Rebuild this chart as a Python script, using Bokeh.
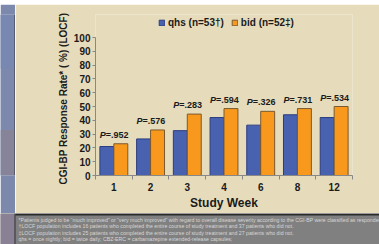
from bokeh.plotting import figure
from bokeh.models import (ColumnDataSource, Range1d, FixedTicker, Legend, LegendItem, Label, Title)
from bokeh.layouts import row, column
from bokeh.transform import dodge
from bokeh.core.properties import value
from bokeh.embed import file_html
from bokeh.resources import INLINE

weeks = ["1", "2", "3", "4", "6", "8", "12"]
qhs = [21, 26.5, 32.5, 42, 36.5, 44, 42]
bid = [23, 33, 44.5, 48.5, 46.5, 48.5, 50]
pvals = ["=.952", "=.576", "=.283", "=.594", "=.326", "=.731", "=.534"]
series_names = ["qhs (n=53\u2020)", "bid (n=52\u2021)"]
y_title = "CGI-BP Response Rate* ( %) (LOCF)"
y_ticks = list(range(0, 101, 10))
footnotes = [
    "*Patients judged to be \u201cmuch improved\u201d or \u201cvery much improved\u201d with regard to overall disease severity according to the CGI-BP were classified as responders.",
    "\u2020LOCF population includes 16 patients who completed the entire course of study treatment and 37 patients who did not.",
    "\u2021LOCF population includes 25 patients who completed the entire course of study treatment and 27 patients who did not.",
    "qhs = once nightly; bid = twice daily; CBZ-ERC = carbamazepine extended-release capsules;",
    "CGI-BP = Clinical Global Impressions Scale\u2014Bipolar version; LOCF = last observation carried forward.",
]

FONT = "Liberation Sans"
BEIGE = "#e6dcbc"
BLUE = "#4862b0"
ORANGE = "#f8981d"
DARK = "#1a1a1a"


def deco(width, height, bg):
    f = figure(width=width, height=height, output_backend="svg", toolbar_location=None,
               x_range=Range1d(0, width), y_range=Range1d(height, 0),
               min_border_left=0, min_border_right=0, min_border_top=0, min_border_bottom=0)
    f.axis.visible = False
    f.grid.visible = False
    f.outline_line_color = None
    f.background_fill_color = bg
    f.border_fill_color = bg
    return f


# ---------------- slide decorations (pixel-space figures) ----------------
topbar = deco(379, 4, "#e8781e")
topbar.quad(left=0, right=14, top=0, bottom=4, fill_color="#7888b0", line_color=None)
topbar.quad(left=14, right=15, top=0, bottom=4, fill_color="#333333", line_color=None)
topbar.quad(left=15, right=379, top=3, bottom=4, fill_color="#3a2a1a", line_color=None)

strip = deco(15, 209, "#7d89ac")
strip.quad(left=0, right=14, top=0, bottom=70, fill_color="#7888b0", line_color=None)
strip.quad(left=0, right=14, top=150, bottom=209, fill_color="#87849a", line_color=None)
strip.quad(left=14, right=15, top=0, bottom=209, fill_color="#333333", line_color=None)

footer = deco(379, 31, "#808080")
footer.quad(left=0, right=14, top=0, bottom=31, fill_color="#8a8294", line_color=None)
footer.quad(left=14, right=15, top=0, bottom=31, fill_color="#333333", line_color=None)
footer.quad(left=15, right=379, top=0, bottom=2, fill_color="#2a2a2a", line_color=None)
for i, line in enumerate(footnotes):
    footer.add_layout(Label(x=18, y=6 + 6.6 * i, text=line, text_font=FONT,
                            text_font_size="5.2px", text_color="#d6d6d6",
                            text_baseline="middle"))

# ---------------- chart ----------------
xs = [i + 0.5 for i in range(len(weeks))]
src = ColumnDataSource(dict(
    x=xs, qhs=qhs, bid=bid, p=["P"] * len(weeks), pv=pvals,
    top=[max(a, b) for a, b in zip(qhs, bid)],
))

frame_top, y100, y0 = 14, 37, 175   # page pixels: frame top, value 100, value 0
p = figure(width=364, height=209, output_backend="svg", toolbar_location=None,
           x_range=Range1d(0, len(weeks)),
           y_range=Range1d(0, 100 * (y0 - frame_top) / (y0 - y100)),
           min_border_left=80, min_border_right=27, min_border_top=frame_top - 4,
           min_border_bottom=213 - y0)
p.background_fill_color = BEIGE
p.border_fill_color = BEIGE
p.outline_line_color = None
p.grid.visible = False

r1 = p.vbar(x=dodge("x", -0.19, range=p.x_range), top="qhs", width=0.38, source=src,
            fill_color=BLUE, line_color="#2c3d80", line_width=1)
r2 = p.vbar(x=dodge("x", 0.19, range=p.x_range), top="bid", width=0.38, source=src,
            fill_color=ORANGE, line_color="#7a5a30", line_width=1)

p.text(x="x", y="top", text="p", source=src, text_align="right", text_baseline="middle",
       x_offset=-8, y_offset=-9, text_font=value(FONT), text_font_size="9px",
       text_font_style="bold italic", text_color=DARK)
p.text(x="x", y="top", text="pv", source=src, text_align="left", text_baseline="middle",
       x_offset=-8, y_offset=-9, text_font=value(FONT), text_font_size="9px",
       text_font_style="bold", text_color=DARK)

xa = p.xaxis[0]
xa.ticker = FixedTicker(ticks=xs, minor_ticks=list(range(len(weeks) + 1)))
xa.major_label_overrides = {x: w for x, w in zip(xs, weeks)}
xa.major_tick_out = 0
xa.major_tick_in = 0
xa.minor_tick_out = 4
xa.minor_tick_in = 0
xa.minor_tick_line_color = "#888888"
xa.axis_line_color = "#888888"
xa.major_label_text_font = FONT
xa.major_label_text_font_size = "10px"
xa.major_label_text_font_style = "bold"
xa.major_label_text_color = DARK
xa.major_label_standoff = 3
xa.axis_label = "Study Week"
xa.axis_label_text_font = FONT
xa.axis_label_text_font_size = "12px"
xa.axis_label_text_font_style = "bold"
xa.axis_label_text_color = DARK
xa.axis_label_standoff = 2

ya = p.yaxis[0]
ya.ticker = FixedTicker(ticks=y_ticks, minor_ticks=[])
ya.bounds = (0, 100)
ya.major_tick_out = 3
ya.major_tick_in = 0
ya.major_tick_line_color = "#888888"
ya.axis_line_color = "#888888"
ya.major_label_text_font = FONT
ya.major_label_text_font_size = "10px"
ya.major_label_text_font_style = "bold"
ya.major_label_text_color = DARK
ya.major_label_standoff = 2

p.add_layout(Title(text=y_title, align="left", offset=-9, text_font=FONT,
                   text_font_size="10px", text_font_style="bold", text_color=DARK,
                   standoff=4), "left")

legend = Legend(items=[LegendItem(label=series_names[0], renderers=[r1]),
                       LegendItem(label=series_names[1], renderers=[r2])],
                orientation="horizontal", location=(63, y0 - 28),
                glyph_width=7, glyph_height=7, label_standoff=3, spacing=7,
                padding=0, margin=0, border_line_alpha=0, background_fill_alpha=0,
                label_text_font=FONT, label_text_font_size="10px",
                label_text_font_style="bold", label_text_color=DARK,
                label_height=10)
p.add_layout(legend, "center")

layout = column(topbar, row(strip, p, spacing=0), footer, spacing=0)
open("out.html", "w").write(file_html(layout, INLINE))
